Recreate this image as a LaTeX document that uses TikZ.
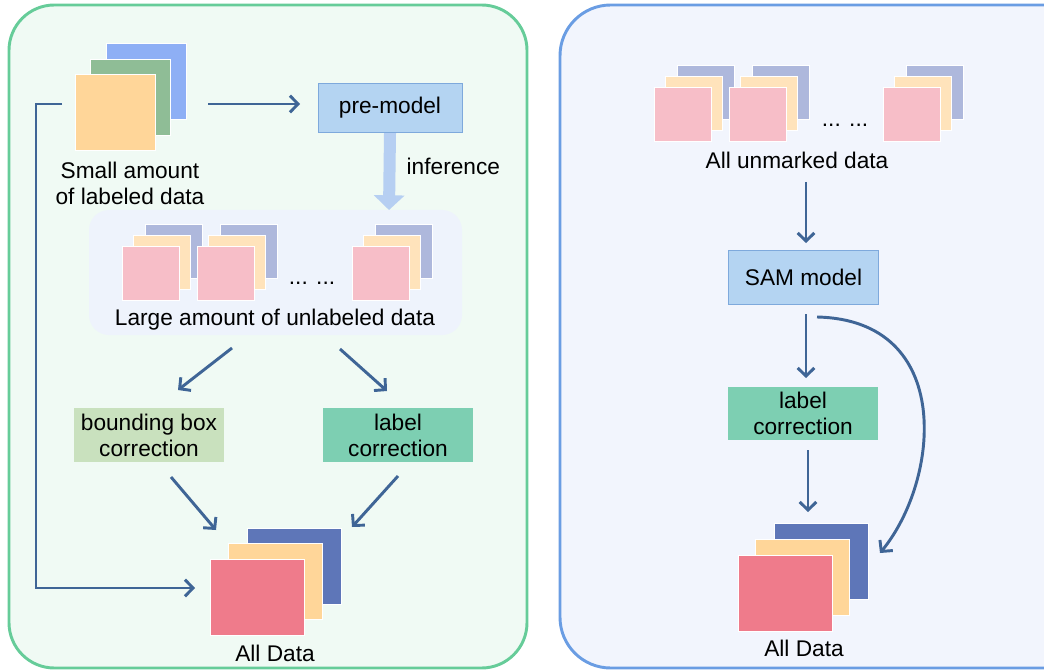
\documentclass[tikz,border=0pt]{standalone}
\usepackage{fontspec}
\setmainfont{Liberation Sans}
\usetikzlibrary{arrows.meta, positioning}

\definecolor{flowblue}{HTML}{3F6596}
\definecolor{inferblue}{HTML}{B6CFF2}
\definecolor{panelgreen}{HTML}{66CC99}
\definecolor{panelgreenbg}{HTML}{F0FAF4}
\definecolor{panelblue}{HTML}{6A9DE3}
\definecolor{panelbluebg}{HTML}{F2F5FD}
\definecolor{groupbg}{HTML}{EEF3FC}
\definecolor{topblue}{HTML}{8EAFF5}
\definecolor{topgreen}{HTML}{8FBD96}
\definecolor{peach}{HTML}{FFD699}
\definecolor{smallback}{HTML}{AEB8DC}
\definecolor{smallmid}{HTML}{FFE3BB}
\definecolor{smallfront}{HTML}{F7BEC8}
\definecolor{allback}{HTML}{5E76B8}
\definecolor{allfront}{HTML}{EF7B8B}
\definecolor{modelfill}{HTML}{B4D4F2}
\definecolor{modeldraw}{HTML}{7EA9DC}
\definecolor{bboxfill}{HTML}{C9E1BE}
\definecolor{labelfill}{HTML}{7DCFB2}

\tikzset{
  card/.style={draw=white, line width=0.75pt, inner sep=0pt},
  topcard/.style={card, minimum width=60pt, minimum height=57pt},
  smallcard/.style={card, minimum width=42.75pt, minimum height=40.5pt},
  allcard/.style={card, minimum width=70.5pt, minimum height=57pt},
  model/.style={rectangle, fill=modelfill, draw=modeldraw, line width=0.75pt, minimum width=108pt, minimum height=37pt, inner sep=0pt},
  fix/.style={rectangle, align=center, minimum width=112.5pt, minimum height=40.5pt, inner sep=0pt},
  flow/.style={draw=flowblue, line width=2.2pt, -{Straight Barb[length=6pt,width=12.5pt]}},
}

\begin{document}
\begin{tikzpicture}[x=0.75pt, y=-0.75pt, font=\fontsize{17}{19.5}\selectfont]
	\useasboundingbox (0,0) rectangle (1044,670);
	\clip (0,0) rectangle (1044,670);

	% panels
	\draw[draw=panelgreen, fill=panelgreenbg, line width=2.2pt, rounded corners=34pt] (9,5) rectangle (527,668);
	\draw[draw=panelblue, fill=panelbluebg, line width=2.2pt, rounded corners=38pt] (560,5) rectangle (1100,668);
	\fill[groupbg, rounded corners=15pt] (89,210) rectangle (462,335);

	% left panel
	\node[topcard, fill=topblue] (lab1) at (146,81.5) {};
	\node[topcard, fill=topgreen] (lab2) at (130,98) {};
	\node[topcard, fill=peach] (lab3) at (115,113) {};
	\node[align=center] (labtxt) at (130,183) {Small amount\\of labeled data};

	\node[model] (pre) at (390,108) {pre-model};
	\node[anchor=west] (inf) at (402,166) {inference};

	\foreach \n/\x in {1/151,2/226,3/380.5} {
		\node[smallcard, fill=smallback] (un\n a) at (\x+23,251) {};
		\node[smallcard, fill=smallmid] (un\n b) at (\x+11,262) {};
		\node[smallcard, fill=smallfront] (un\n c) at (\x,273) {};
	}
	\node (undots) at (312,283) {... ...};
	\node (untxt) at (275,320) {Large amount of unlabeled data};

	\node[fix, fill=bboxfill] (bbox) at (149,435) {bounding box\\correction};
	\node[fix, fill=labelfill] (lab) at (398,435) {label\\correction};

	\node[allcard, fill=allback] (all1) at (294,566.5) {};
	\node[allcard, fill=peach] (all2) at (275,581.5) {};
	\node[allcard, fill=allfront] (all3) at (257,597) {};
	\node (alltxt) at (275,653) {All Data};

	\coordinate (labout) at (208,104);
	\coordinate (prein) at (300,104);
	\coordinate (infend) at (389,210);
	\coordinate (loopout) at (62,104);
	\coordinate (loopin) at (195,588);
	\coordinate (unleft) at (232,348);
	\coordinate (bboxin) at (178,390);
	\coordinate (unright) at (340,349);
	\coordinate (labin) at (387,391);
	\coordinate (bboxout) at (171,477);
	\coordinate (allinl) at (216,530);
	\coordinate (labout2) at (398,476);
	\coordinate (allinr) at (352,527);

	\draw[flow] (labout) -- (prein);
	\draw[draw=inferblue, line width=9pt, -{Triangle[length=11pt,width=22.5pt]}] (pre.south) -- (infend);
	\draw[flow] (loopout) -- (36,104) -- (36,588) -- (loopin);
	\draw[flow] (unleft) -- (bboxin);
	\draw[flow] (unright) -- (labin);
	\draw[flow] (bboxout) -- (allinl);
	\draw[flow] (labout2) -- (allinr);

	% right panel
	\foreach \n/\x in {1/682.5,2/758,3/912} {
		\node[smallcard, fill=smallback] (um\n a) at (\x+23,93) {};
		\node[smallcard, fill=smallmid] (um\n b) at (\x+11,104) {};
		\node[smallcard, fill=smallfront] (um\n c) at (\x,115) {};
	}
	\node (umdots) at (845,125) {... ...};
	\node (umtxt) at (797,160) {All unmarked data};

	\node[model, minimum width=113pt, minimum height=41pt] (sam) at (803.5,277.5) {SAM model};
	\node[fix, fill=labelfill, minimum height=40pt] (rlab) at (803,413.5) {label\\correction};

	\node[allcard, fill=allback] (rall1) at (821,561.5) {};
	\node[allcard, fill=peach] (rall2) at (802,577) {};
	\node[allcard, fill=allfront] (rall3) at (785,593) {};
	\node (ralltxt) at (804,648) {All Data};

	\coordinate (umout) at (806,182);
	\coordinate (samin) at (806,243);
	\coordinate (samout) at (806,314);
	\coordinate (rlabin) at (806,378);
	\coordinate (rlabout) at (808,450);
	\coordinate (rallin) at (808,512);
	\coordinate (samside) at (817,317);
	\coordinate (rallside) at (880,553);

	\draw[flow] (umout) -- (samin);
	\draw[flow] (samout) -- (rlabin);
	\draw[flow] (rlabout) -- (rallin);
	\draw[flow] (samside) .. controls (955,320) and (940,480) .. (rallside);
\end{tikzpicture}
\end{document}
